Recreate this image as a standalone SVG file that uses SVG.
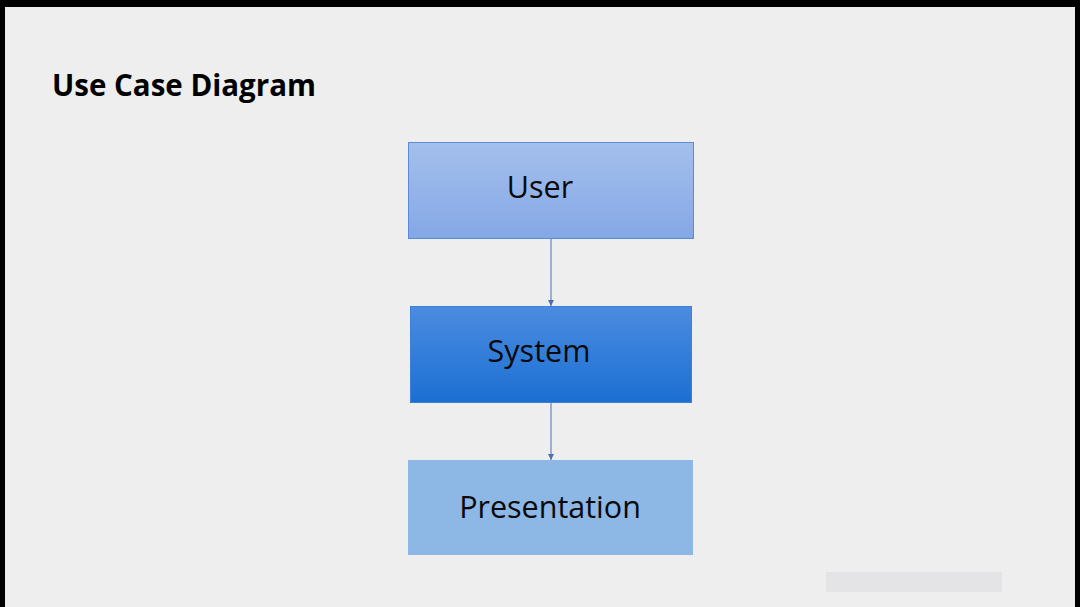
<svg xmlns="http://www.w3.org/2000/svg" width="1080" height="607" viewBox="0 0 1080 607">
<defs>
<linearGradient id="gUser" x1="0" y1="0" x2="0" y2="1"><stop offset="0" stop-color="#a4bfec"/><stop offset="1" stop-color="#84a8e6"/></linearGradient>
<linearGradient id="gSys" x1="0" y1="0" x2="0" y2="1"><stop offset="0" stop-color="#4b8ce0"/><stop offset="1" stop-color="#1b6fd3"/></linearGradient>
<marker id="arr" viewBox="0 0 10 10" refX="10" refY="5" markerWidth="6" markerHeight="6" orient="auto" markerUnits="userSpaceOnUse"><path d="M0,0 L10,5 L0,10 Z" fill="#4a6fb5"/></marker>
<style>
.lbl{font-family:"Open Sans","Liberation Sans",sans-serif;font-size:30.5px;fill:#0a0a0a;text-anchor:middle}
.title{font-family:"Open Sans","Liberation Sans",sans-serif;font-size:29.5px;font-weight:bold;fill:#000}
.conn{stroke:#4a6fb5;stroke-width:1;fill:none}
</style>
</defs>
<rect x="0" y="0" width="1080" height="607" fill="#eeeeee"/>
<rect x="0" y="0" width="1080" height="7" fill="#000"/>
<rect x="0" y="0" width="5" height="607" fill="#000"/>
<rect x="1075" y="0" width="5" height="607" fill="#000"/>
<text class="title" x="52" y="96">Use Case Diagram</text>
<g id="connectors">
<line class="conn" x1="551" y1="238" x2="551" y2="306" marker-end="url(#arr)"/>
<line class="conn" x1="551" y1="402" x2="551" y2="460" marker-end="url(#arr)"/>
</g>
<g id="user">
<rect x="408.5" y="142.5" width="285" height="96" fill="url(#gUser)" stroke="#5b8ad6" stroke-width="1"/>
<text class="lbl" x="540" y="198">User</text>
</g>
<g id="system">
<rect x="410.5" y="306.5" width="281" height="96" fill="url(#gSys)" stroke="#3d7fd9" stroke-width="1"/>
<text class="lbl" x="539" y="362">System</text>
</g>
<g id="presentation">
<rect x="408" y="460" width="285" height="95" fill="#8db7e5"/>
<text class="lbl" x="550" y="518">Presentation</text>
</g>
<rect x="826" y="572" width="176" height="20" fill="#e4e4e7"/>
</svg>
